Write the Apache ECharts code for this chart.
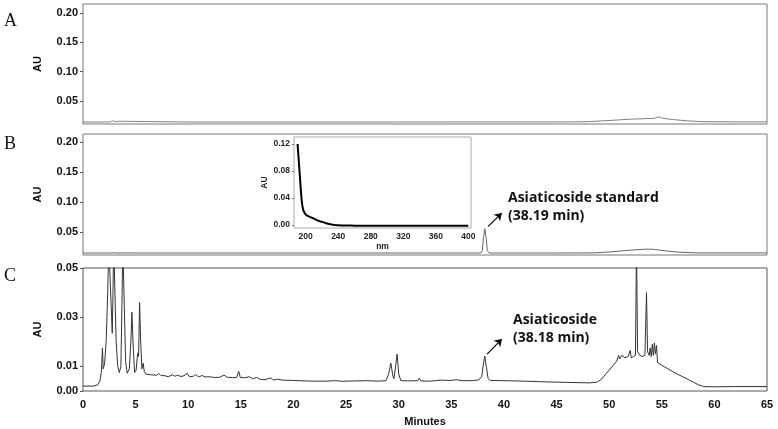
<!DOCTYPE html>
<html>
<head>
<meta charset="utf-8">
<script src="https://cdn.jsdelivr.net/npm/echarts@6/dist/echarts.min.js"></script>
<style>
html,body{margin:0;padding:0;background:#fff;}
#main{width:778px;height:429px;}
</style>
</head>
<body>
<div id="main"></div>
<script>
// tick labels
var minuteTicks = [0, 5, 10, 15, 20, 25, 30, 35, 40, 45, 50, 55, 60, 65];
var auTicksAB = [0.05, 0.10, 0.15, 0.20];
var auTicksC = [0.00, 0.01, 0.03, 0.05];
var nmTicks = [200, 240, 280, 320, 360, 400];
var insetAuTicks = [0.00, 0.04, 0.08, 0.12];

// A: blank, [minutes, AU]
var traceA = [[0, 0.0142], [2.6, 0.0142], [2.8, 0.0165], [2.95, 0.015], [3.1, 0.0145], [3.35, 0.0155], [3.5, 0.0143],
	[10, 0.0142], [30, 0.0142], [46, 0.0143], [48, 0.0148], [50, 0.0168], [52, 0.019], [54.3, 0.0205], [54.7, 0.0228],
	[55.1, 0.0205], [56, 0.0185], [57.5, 0.016], [59, 0.0148], [62, 0.0145], [65, 0.0145]];

// B: asiaticoside standard
var traceB = [[0, 0.0158], [1.5, 0.0158], [1.6, 0.0168], [1.7, 0.0158], [2.7, 0.0158], [2.85, 0.019], [2.95, 0.0162],
	[3.2, 0.0158], [3.75, 0.0159], [3.85, 0.0172], [3.95, 0.016], [5, 0.0158], [10, 0.0158], [20, 0.0158], [30, 0.0158],
	[37.8, 0.0158], [37.95, 0.02], [38.05, 0.04], [38.19, 0.056], [38.32, 0.04], [38.42, 0.02], [38.6, 0.0158],
	[45, 0.0158], [48.5, 0.016], [50, 0.0175], [52, 0.0205], [53.5, 0.0222], [54.2, 0.022], [55.5, 0.019],
	[57, 0.0168], [58.5, 0.016], [65, 0.016]];

// C: extract
var traceC = [[0, 0.002], [1.0, 0.002], [1.4, 0.0025], [1.6, 0.004], [1.75, 0.008], [1.85, 0.0175], [1.92, 0.009],
	[2.05, 0.011], [2.2, 0.02], [2.35, 0.04], [2.45, 0.06], [2.6, 0.06], [2.72, 0.03], [2.78, 0.0235], [2.85, 0.04],
	[2.92, 0.06], [3.02, 0.06], [3.15, 0.02], [3.3, 0.01], [3.45, 0.0075], [3.6, 0.01], [3.72, 0.04], [3.78, 0.06],
	[3.88, 0.06], [3.95, 0.03], [4.05, 0.012], [4.2, 0.0072], [4.4, 0.009], [4.55, 0.02], [4.65, 0.032], [4.75, 0.02],
	[4.9, 0.0075], [5.05, 0.0085], [5.15, 0.0135], [5.22, 0.0155], [5.28, 0.014], [5.38, 0.036], [5.48, 0.02],
	[5.6, 0.009], [5.72, 0.0113], [5.82, 0.008], [6.0, 0.0068], [6.5, 0.0066], [7.0, 0.0064], [7.2, 0.0072],
	[7.4, 0.0063], [7.8, 0.0062], [8.1, 0.0058], [8.5, 0.0066], [8.7, 0.006], [9.0, 0.0064], [9.3, 0.0059],
	[9.6, 0.0062], [9.9, 0.0072], [10.1, 0.0058], [10.5, 0.006], [10.7, 0.0067], [11.0, 0.0057], [11.3, 0.0063],
	[11.6, 0.0057], [12.0, 0.0058], [12.5, 0.0055], [13.0, 0.0056], [13.4, 0.0065], [13.7, 0.0056], [14.2, 0.0054],
	[14.6, 0.0055], [14.8, 0.008], [14.95, 0.0055], [15.4, 0.0054], [15.8, 0.0058], [16.1, 0.005], [16.5, 0.0055],
	[16.8, 0.0048], [17.3, 0.0046], [17.8, 0.0053], [18.1, 0.0045], [18.5, 0.0048], [19.0, 0.0044], [20, 0.0043],
	[21, 0.0041], [22, 0.004], [23, 0.004], [24, 0.0042], [24.5, 0.004], [25, 0.004], [26, 0.0041], [27, 0.0042],
	[28, 0.004], [28.8, 0.0042], [29.05, 0.007], [29.25, 0.0114], [29.45, 0.006], [29.55, 0.005], [29.7, 0.01],
	[29.85, 0.015], [30.0, 0.007], [30.2, 0.0042], [31, 0.0041], [31.8, 0.0042], [31.95, 0.0052], [32.1, 0.0041],
	[33, 0.004], [34, 0.0044], [35, 0.0043], [35.5, 0.0046], [36, 0.0042], [37, 0.0042], [37.6, 0.0045],
	[37.9, 0.006], [38.05, 0.011], [38.18, 0.0142], [38.32, 0.01], [38.5, 0.005], [38.7, 0.0043], [40, 0.0042],
	[42, 0.004], [44, 0.0037], [46, 0.0035], [48, 0.0033], [48.8, 0.0035], [49.2, 0.0045], [49.6, 0.0065],
	[50.0, 0.0085], [50.4, 0.0105], [50.7, 0.012], [50.9, 0.0145], [51.0, 0.013], [51.2, 0.0145], [51.5, 0.0135],
	[51.8, 0.014], [52.0, 0.0165], [52.1, 0.0135], [52.3, 0.014], [52.5, 0.0145], [52.6, 0.06], [52.7, 0.016],
	[52.9, 0.0145], [53.2, 0.014], [53.4, 0.0145], [53.55, 0.04], [53.65, 0.016], [53.8, 0.0145], [53.9, 0.0175],
	[54.0, 0.014], [54.1, 0.019], [54.2, 0.0145], [54.3, 0.0195], [54.4, 0.015], [54.5, 0.0185], [54.6, 0.0115],
	[55, 0.0105], [55.5, 0.0092], [56, 0.008], [56.5, 0.0068], [57, 0.0058], [57.5, 0.0047], [58, 0.0036],
	[58.5, 0.0025], [59, 0.0018], [60, 0.0017], [62, 0.0018], [65, 0.0018]];

// inset: UV spectrum [nm, AU]
var spectrum = [[190, 0.12], [191, 0.103], [192, 0.086], [193, 0.069], [194, 0.052], [195, 0.037], [196, 0.028],
	[197, 0.022], [199, 0.017], [201, 0.0145], [203, 0.013], [208, 0.0105], [213, 0.0075], [220, 0.0045],
	[225, 0.0025], [230, 0.001], [235, 0.0001], [240, -0.0005], [250, -0.0009], [260, -0.001], [400, -0.001]];

var myChart = echarts.init(document.getElementById('main'));

var lblFont = {fontFamily: 'Liberation Sans', fontWeight: 'bold', fontSize: 11, color: '#111'};
var insetFont = {fontFamily: 'Liberation Sans', fontWeight: 'bold', fontSize: 8.5, color: '#222'};

function yAx(idx, min, max, ticks) {
	return {
		type: 'value', gridIndex: idx, min: min, max: max,
		name: 'AU', nameLocation: 'middle', nameGap: 40, nameRotate: 90,
		nameTextStyle: lblFont,
		axisLine: {show: false},
		splitLine: {show: false},
		axisTick: {show: true, length: 3, customValues: ticks, lineStyle: {color: '#555'}},
		axisLabel: Object.assign({customValues: ticks, margin: 5, formatter: function(v){ return v.toFixed(2); }}, lblFont)
	};
}
function xAx(idx, show) {
	return {
		type: 'value', gridIndex: idx, min: 0, max: 65,
		axisLine: {show: false}, splitLine: {show: false},
		axisTick: {show: false},
		axisLabel: Object.assign({show: show, customValues: minuteTicks, margin: 8}, lblFont),
		name: show ? 'Minutes' : '', nameLocation: 'middle', nameGap: 25,
		nameTextStyle: lblFont
	};
}

var arrowStyle = {
	silent: true, symbol: ['none', 'arrow'], symbolSize: 7,
	lineStyle: {color: '#000', width: 1.2, type: 'solid'},
	label: {show: false}
};

option = {
	animation: false,
	backgroundColor: '#fff',
	grid: [
		{left: 83, top: 4, width: 684, height: 120, show: true, borderColor: '#777', borderWidth: 1},
		{left: 83, top: 134, width: 684, height: 121, show: true, borderColor: '#777', borderWidth: 1},
		{left: 83, top: 268, width: 684, height: 123, show: true, borderColor: '#555', borderWidth: 1},
		{left: 294, top: 137, width: 177, height: 91, show: true, borderColor: '#aaa', borderWidth: 1, backgroundColor: '#fff'}
	],
	xAxis: [
		xAx(0, false), xAx(1, false), xAx(2, true),
		{
			type: 'value', gridIndex: 3, min: 185.6, max: 403.3,
			axisLine: {show: false}, splitLine: {show: false},
			axisTick: {show: false},
			axisLabel: Object.assign({customValues: nmTicks, margin: 4}, insetFont),
			name: 'nm', nameLocation: 'middle', nameGap: 14,
			nameTextStyle: insetFont
		}
	],
	yAxis: [
		yAx(0, 0.0108, 0.2153, auTicksAB),
		yAx(1, 0.0125, 0.2133, auTicksAB),
		yAx(2, 0, 0.05, auTicksC),
		{
			type: 'value', gridIndex: 3, min: -0.0045, max: 0.1304,
			name: 'AU', nameLocation: 'middle', nameGap: 22, nameRotate: 90,
			nameTextStyle: insetFont,
			axisLine: {show: false}, splitLine: {show: false},
			axisTick: {show: true, length: 2, customValues: insetAuTicks, lineStyle: {color: '#777'}},
			axisLabel: Object.assign({customValues: insetAuTicks, margin: 4, formatter: function(v){ return v.toFixed(2); }}, insetFont)
		}
	],
	series: [
		{type: 'line', xAxisIndex: 0, yAxisIndex: 0, data: traceA, showSymbol: false,
			lineStyle: {color: '#808080', width: 1}},
		{type: 'line', xAxisIndex: 1, yAxisIndex: 1, data: traceB, showSymbol: false,
			lineStyle: {color: '#666', width: 1},
			markLine: Object.assign({data: [[{coord: [38.5, 0.06]}, {coord: [39.8, 0.082]}]]}, arrowStyle)},
		{type: 'line', xAxisIndex: 2, yAxisIndex: 2, data: traceC, showSymbol: false,
			lineStyle: {color: '#333', width: 1},
			markLine: Object.assign({data: [[{coord: [38.4, 0.015]}, {coord: [39.8, 0.0211]}]]}, arrowStyle)},
		{type: 'line', xAxisIndex: 3, yAxisIndex: 3, data: spectrum, showSymbol: false, smooth: 0.2,
			lineStyle: {color: '#000', width: 2}}
	],
	graphic: [
		{type: 'text', left: 4, top: 12, style: {text: 'A', font: '18px "Liberation Serif"', fill: '#111'}},
		{type: 'text', left: 4, top: 135, style: {text: 'B', font: '18px "Liberation Serif"', fill: '#111'}},
		{type: 'text', left: 4, top: 267, style: {text: 'C', font: '18px "Liberation Serif"', fill: '#111'}},
		{type: 'text', left: 508, top: 191, style: {text: 'Asiaticoside standard', font: 'bold 14px "Open Sans"', fill: '#111'}},
		{type: 'text', left: 508, top: 209, style: {text: '(38.19 min)', font: 'bold 14px "Open Sans"', fill: '#111'}},
		{type: 'text', left: 513, top: 313, style: {text: 'Asiaticoside', font: 'bold 14px "Open Sans"', fill: '#111'}},
		{type: 'text', left: 513, top: 331, style: {text: '(38.18 min)', font: 'bold 14px "Open Sans"', fill: '#111'}}
	]
};
myChart.setOption(option);
</script>
</body>
</html>
